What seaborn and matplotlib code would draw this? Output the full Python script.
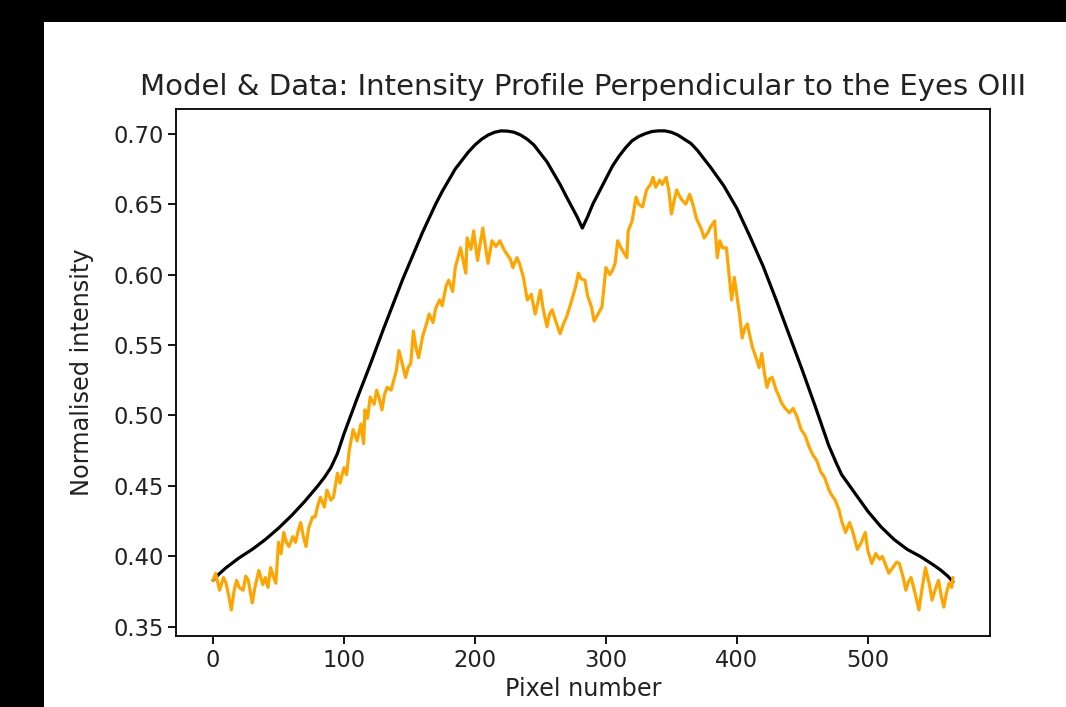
import numpy as np
import pandas as pd
import matplotlib
matplotlib.use("Agg")
import matplotlib.pyplot as plt
from matplotlib.patches import Rectangle
import seaborn as sns

# model profile (pixel, normalised intensity)
model_px = [0, 4, 10, 20, 30, 40, 50, 60, 70, 80, 85, 90, 95, 100, 110, 120, 130,
            140, 145, 150, 155, 160, 165, 170, 175, 180, 185, 190, 195, 200, 205,
            210, 215, 220, 225, 230, 235, 240, 245, 250, 255, 260, 265, 270, 274,
            278, 282, 286, 290, 295, 300, 305, 310, 315, 320, 325, 330, 335, 340,
            345, 350, 355, 360, 365, 370, 375, 380, 390, 400, 410, 420, 430, 440,
            450, 460, 470, 476, 480, 490, 500, 510, 520, 530, 540, 550, 556, 561,
            565]
model_val = [0.383, 0.387, 0.392, 0.399, 0.405, 0.412, 0.420, 0.429, 0.439, 0.450,
             0.456, 0.463, 0.473, 0.487, 0.512, 0.536, 0.561, 0.585, 0.597, 0.608,
             0.619, 0.630, 0.640, 0.650, 0.659, 0.667, 0.675, 0.681, 0.687, 0.692,
             0.696, 0.699, 0.701, 0.702, 0.7018, 0.701, 0.699, 0.696, 0.692, 0.686,
             0.680, 0.672, 0.664, 0.655, 0.648, 0.641, 0.633, 0.641, 0.650, 0.659,
             0.668, 0.677, 0.684, 0.690, 0.695, 0.698, 0.700, 0.7015, 0.702, 0.702,
             0.701, 0.699, 0.696, 0.693, 0.688, 0.682, 0.676, 0.663, 0.647, 0.627,
             0.606, 0.582, 0.557, 0.532, 0.506, 0.479, 0.466, 0.458, 0.445, 0.432,
             0.421, 0.412, 0.405, 0.400, 0.394, 0.390, 0.386, 0.382]

# measured OIII profile
data_px = [0, 2, 5, 8, 10, 12, 14, 16, 18, 20, 23, 25, 27, 29, 30, 32, 35, 38, 40,
           42, 44, 46, 48, 50, 52, 54, 56, 58, 61, 63, 65, 67, 69, 71, 73, 76, 78,
           80, 82, 85, 87, 90, 92, 95, 97, 100, 102, 104, 107, 110, 113, 115, 116,
           118, 120, 123, 125, 127, 129, 131, 133, 136, 138, 140, 142, 145, 147,
           149, 151, 153, 155, 157, 160, 163, 165, 168, 170, 173, 175, 178, 180,
           183, 185, 187, 189, 191, 193, 194, 197, 199, 202, 204, 206, 208, 210,
           213, 216, 219, 222, 224, 227, 229, 232, 234, 237, 240, 243, 246, 248,
           250, 252, 255, 257, 259, 262, 265, 268, 270, 272, 274, 277, 279, 281,
           284, 286, 289, 291, 294, 297, 300, 303, 305, 307, 309, 312, 314, 316,
           317, 320, 323, 325, 328, 331, 334, 336, 338, 341, 343, 346, 348, 350,
           352, 354, 356, 358, 361, 364, 367, 369, 371, 373, 375, 378, 380, 383,
           385, 387, 389, 392, 394, 396, 398, 400, 402, 404, 406, 408, 410, 412,
           415, 417, 419, 421, 423, 425, 427, 430, 432, 434, 437, 440, 443, 446,
           449, 452, 455, 458, 461, 464, 467, 470, 472, 475, 478, 480, 483, 486,
           488, 490, 492, 495, 498, 500, 503, 506, 509, 511, 514, 516, 519, 522,
           524, 527, 529, 531, 533, 536, 539, 541, 544, 547, 549, 552, 554, 556,
           558, 560, 562, 564, 565]
data_val = [0.383, 0.388, 0.376, 0.385, 0.381, 0.372, 0.362, 0.375, 0.383, 0.378,
            0.376, 0.386, 0.383, 0.372, 0.367, 0.378, 0.390, 0.380, 0.385, 0.378,
            0.392, 0.386, 0.381, 0.410, 0.402, 0.417, 0.410, 0.407, 0.414, 0.410,
            0.418, 0.424, 0.414, 0.407, 0.420, 0.428, 0.428, 0.436, 0.442, 0.435,
            0.447, 0.440, 0.442, 0.459, 0.452, 0.463, 0.458, 0.475, 0.490, 0.482,
            0.494, 0.480, 0.504, 0.498, 0.513, 0.508, 0.518, 0.512, 0.504, 0.515,
            0.520, 0.518, 0.525, 0.532, 0.546, 0.535, 0.527, 0.534, 0.537, 0.560,
            0.548, 0.541, 0.556, 0.565, 0.572, 0.566, 0.576, 0.582, 0.578, 0.592,
            0.596, 0.588, 0.605, 0.612, 0.619, 0.610, 0.601, 0.626, 0.618, 0.631,
            0.610, 0.622, 0.633, 0.620, 0.608, 0.624, 0.620, 0.624, 0.618, 0.615,
            0.611, 0.605, 0.612, 0.608, 0.598, 0.582, 0.586, 0.572, 0.580, 0.589,
            0.576, 0.563, 0.572, 0.575, 0.566, 0.558, 0.566, 0.570, 0.576, 0.582,
            0.592, 0.601, 0.597, 0.596, 0.585, 0.577, 0.567, 0.572, 0.577, 0.605,
            0.600, 0.603, 0.608, 0.624, 0.618, 0.615, 0.612, 0.631, 0.638, 0.655,
            0.650, 0.648, 0.660, 0.664, 0.669, 0.662, 0.667, 0.664, 0.669, 0.660,
            0.643, 0.652, 0.660, 0.656, 0.653, 0.650, 0.657, 0.648, 0.640, 0.636,
            0.632, 0.626, 0.630, 0.634, 0.638, 0.612, 0.624, 0.619, 0.619, 0.600,
            0.582, 0.598, 0.585, 0.572, 0.555, 0.562, 0.565, 0.556, 0.548, 0.540,
            0.534, 0.544, 0.530, 0.520, 0.526, 0.527, 0.518, 0.514, 0.509, 0.505,
            0.502, 0.505, 0.499, 0.490, 0.486, 0.478, 0.472, 0.468, 0.460, 0.456,
            0.448, 0.444, 0.440, 0.433, 0.425, 0.417, 0.424, 0.419, 0.412, 0.405,
            0.410, 0.417, 0.404, 0.395, 0.402, 0.398, 0.400, 0.393, 0.388, 0.392,
            0.396, 0.395, 0.385, 0.376, 0.382, 0.385, 0.374, 0.362, 0.375, 0.392,
            0.380, 0.369, 0.378, 0.383, 0.372, 0.364, 0.374, 0.381, 0.378, 0.385]

y_ticks = [0.35, 0.40, 0.45, 0.50, 0.55, 0.60, 0.65, 0.70]
x_ticks = [0, 100, 200, 300, 400, 500]

model = pd.DataFrame({"px": model_px, "val": model_val})
data = pd.DataFrame({"px": data_px, "val": data_val})

sns.set_theme(style="ticks", rc={
    "axes.edgecolor": "black", "axes.linewidth": 1.3,
    "xtick.color": "black", "ytick.color": "black",
    "xtick.major.size": 5.5, "ytick.major.size": 5.5,
    "xtick.major.width": 1.3, "ytick.major.width": 1.3,
    "text.color": "#222222", "axes.labelcolor": "#222222",
})
plt.rcParams["font.family"] = ["DejaVu Sans"]

fig = plt.figure(figsize=(10.66, 7.07), dpi=100, facecolor="black")
# white panel of the notebook output on the dark page
fig.patches.append(Rectangle((44 / 1066, 0), 1 - 44 / 1066, 1 - 22 / 707,
                             transform=fig.transFigure, facecolor="white",
                             edgecolor="none", zorder=-10))
ax = fig.add_axes([0.1651, 0.1004, 0.7636, 0.7454])

sns.lineplot(data=model, x="px", y="val", color="black", lw=2.3, ax=ax)
sns.lineplot(data=data, x="px", y="val", color="orange", lw=2.3, ax=ax)

ax.set_xticks(x_ticks)
ax.set_yticks(y_ticks)
ax.set_yticklabels([f"{t:.2f}" for t in y_ticks])
ax.tick_params(labelsize=16.3, colors="black", labelcolor="#222222")
ax.set_xlim(-28.25, 593.25)
ax.set_ylim(0.3435, 0.7175)
ax.set_xlabel("Pixel number", fontsize=17.3, labelpad=4)
ax.set_ylabel("Normalised intensity", fontsize=17.3, labelpad=14)
ax.set_title("Model & Data: Intensity Profile Perpendicular to the Eyes OIII",
             fontsize=21, pad=10)

fig.savefig("out.png", dpi=100, facecolor=fig.get_facecolor())
